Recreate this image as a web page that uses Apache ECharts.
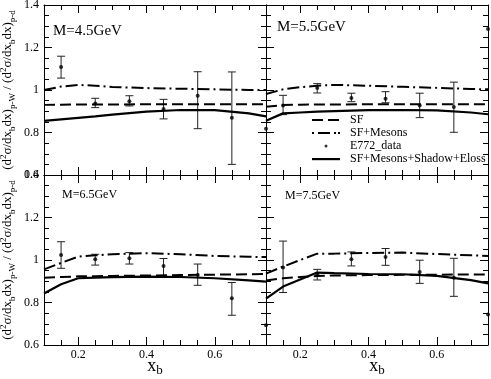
<!DOCTYPE html>
<html>
<head>
<meta charset="utf-8">
<script src="https://cdn.jsdelivr.net/npm/echarts@6/dist/echarts.min.js"></script>
<style>
  html, body { margin: 0; padding: 0; background: #fff; }
  #chart { width: 491px; height: 379px; }
</style>
</head>
<body>
<div id="chart"></div>
<script>
// panels: 0 = M4.5 (top left), 1 = M5.5 (top right), 2 = M6.5 (bottom left), 3 = M7.5 (bottom right)
var massLabels = ['M=4.5GeV', 'M=5.5GeV', 'M=6.5GeV', 'M=7.5GeV']

// x nodes of the model curves
var xNodes = [0.1, 0.15, 0.2, 0.25, 0.3, 0.4, 0.5, 0.6, 0.7, 0.75]

// SF (dashed)
var sfCurves = [
  [0.93, 0.931, 0.932, 0.932, 0.932, 0.933, 0.933, 0.933, 0.933, 0.933],
  [0.921, 0.929, 0.931, 0.932, 0.932, 0.933, 0.933, 0.933, 0.933, 0.933],
  [0.917, 0.92, 0.923, 0.924, 0.925, 0.927, 0.929, 0.931, 0.933, 0.934],
  [0.904, 0.914, 0.92, 0.925, 0.927, 0.929, 0.93, 0.931, 0.932, 0.932],
]
// SF+Mesons (dash-dot)
var mesonCurves = [
  [1.0, 1.016, 1.024, 1.02, 1.014, 1.009, 1.006, 1.003, 1.0, 1.0],
  [0.981, 1.003, 1.013, 1.02, 1.024, 1.02, 1.015, 1.01, 1.005, 1.003],
  [0.956, 0.986, 1.016, 1.022, 1.027, 1.032, 1.027, 1.019, 1.015, 1.014],
  [0.936, 0.969, 1.0, 1.03, 1.03, 1.033, 1.035, 1.028, 1.022, 1.019],
]
// SF+Mesons+Shadow+Eloss (solid)
var fullCurves = [
  [0.855, 0.862, 0.869, 0.876, 0.884, 0.898, 0.906, 0.905, 0.89, 0.876],
  [0.855, 0.89, 0.894, 0.898, 0.901, 0.905, 0.906, 0.904, 0.894, 0.886],
  [0.842, 0.886, 0.914, 0.917, 0.919, 0.922, 0.92, 0.914, 0.904, 0.898],
  [0.818, 0.875, 0.908, 0.941, 0.938, 0.934, 0.933, 0.925, 0.905, 0.89],
]

// E772 data
var dataX = [0.15, 0.25, 0.35, 0.45, 0.55, 0.65]
var dataY = [
  [1.108, 0.937, 0.947, 0.911, 0.973, 0.87],
  [0.927, 1.01, 0.962, 0.959, 0.927, 0.92],
  [1.024, 1.003, 1.008, 0.972, 0.93, 0.82],
  [0.965, 0.933, 1.003, 1.014, 0.944, 0.917],
]
var dataLo = [
  [1.056, 0.917, 0.925, 0.864, 0.818, 0.65],
  [0.884, 0.986, 0.945, 0.94, 0.87, 0.801],
  [0.961, 0.976, 0.981, 0.92, 0.881, 0.74],
  [0.847, 0.906, 0.972, 0.975, 0.89, 0.829],
]
var dataHi = [
  [1.159, 0.961, 0.973, 0.956, 1.086, 1.085],
  [0.975, 1.03, 0.985, 0.992, 0.985, 1.037],
  [1.086, 1.027, 1.035, 1.007, 0.981, 0.894],
  [1.089, 0.956, 1.038, 1.054, 0.999, 1.008],
]
// stray dots sitting on the panel edges
var edgeDots = [[], [[0.1, 0.818], [0.75, 1.287]], [], [[0.1, 0.693], [0.75, 0.744]]]

var xMajorTicks = [0.2, 0.4, 0.6]

var FONT = 'Liberation Serif'
var black = { color: '#000', width: 1 }

var grids = [
  { left: 44, top: 5, width: 222, height: 170 },
  { left: 266, top: 5, width: 222, height: 170 },
  { left: 44, top: 175, width: 222, height: 170 },
  { left: 266, top: 175, width: 222, height: 170 },
]

var yTitle =
  '{m|(d}{sup|2}{m|σ/dx}{sub|b}{m|dx)}{sub|p-W}{m| / (d}{sup|2}{m|σ/dx}{sub|b}{m|dx)}{sub|p-d}'

var xAxes = []
var yAxes = []
grids.forEach(function (gr, g) {
  var bottomRow = g >= 2
  var leftCol = g % 2 === 0
  ;['bottom', 'top'].forEach(function (pos) {
    // major ticks + labels
    xAxes.push({
      type: 'value',
      gridIndex: g,
      position: pos,
      min: 0.1,
      max: 0.75,
      axisLine: { show: true, onZero: false, lineStyle: black },
      axisTick: { show: true, inside: true, length: 8, customValues: xMajorTicks, lineStyle: black },
      axisLabel: {
        show: pos === 'bottom' && bottomRow,
        customValues: xMajorTicks,
        margin: 4,
        color: '#000',
        fontFamily: FONT,
        fontSize: 12,
        formatter: function (v) { return String(Math.round(v * 10) / 10) },
      },
      splitLine: { show: false },
      name: pos === 'bottom' && bottomRow ? '{x|x}{b|b}' : '',
      nameLocation: 'middle',
      nameGap: 10,
      nameMoveOverlap: false,
      nameTextStyle: {
        rich: {
          x: { fontFamily: FONT, fontSize: 18, color: '#000', lineHeight: 22 },
          b: { fontFamily: FONT, fontSize: 13, color: '#000', verticalAlign: 'bottom', padding: [8, 0, 0, 0] },
        },
      },
    })
    // minor ticks
    xAxes.push({
      type: 'value',
      gridIndex: g,
      position: pos,
      min: 0.1,
      max: 0.75,
      interval: 0.05,
      axisLine: { show: false },
      axisTick: { show: true, inside: true, length: 5, lineStyle: black },
      axisLabel: { show: false },
      splitLine: { show: false },
    })
  })
  ;['left', 'right'].forEach(function (pos) {
    yAxes.push({
      type: 'value',
      gridIndex: g,
      position: pos,
      min: 0.6,
      max: 1.4,
      interval: 0.2,
      axisLine: { show: true, onZero: false, lineStyle: black },
      axisTick: { show: true, inside: true, length: 8, lineStyle: black },
      minorTick: { show: true, splitNumber: 4, length: 5, lineStyle: black },
      axisLabel: {
        show: pos === 'left' && leftCol,
        margin: 5,
        color: '#000',
        fontFamily: FONT,
        fontSize: 12,
        formatter: function (v) { return String(Math.round(v * 10) / 10) },
      },
      splitLine: { show: false },
      minorSplitLine: { show: false },
      name: pos === 'left' && leftCol ? yTitle : '',
      nameLocation: 'middle',
      nameRotate: 90,
      nameGap: 27,
      nameMoveOverlap: false,
      nameTextStyle: {
        rich: {
          m: { fontFamily: FONT, fontSize: 13, color: '#000', lineHeight: 18 },
          sup: { fontFamily: FONT, fontSize: 9, color: '#000', verticalAlign: 'top', padding: [0, 0, 8, 0] },
          sub: { fontFamily: FONT, fontSize: 9, color: '#000', verticalAlign: 'bottom', padding: [6, 0, 0, 0] },
        },
      },
    })
  })
})

function pairs(xs, ys) {
  return xs.map(function (x, i) { return [x, ys[i]] })
}

var series = []
grids.forEach(function (gr, g) {
  var xi = g * 4
  var yi = g * 2
  series.push({
    name: 'SF',
    type: 'line',
    xAxisIndex: xi,
    yAxisIndex: yi,
    symbol: 'none',
    itemStyle: { color: '#000' },
    lineStyle: { color: '#000', width: 2, type: [11, 5] },
    data: pairs(xNodes, sfCurves[g]),
  })
  series.push({
    name: 'SF+Mesons',
    type: 'line',
    xAxisIndex: xi,
    yAxisIndex: yi,
    symbol: 'none',
    itemStyle: { color: '#000' },
    lineStyle: { color: '#000', width: 2, type: [12, 4, 2, 4] },
    data: pairs(xNodes, mesonCurves[g]),
  })
  series.push({
    name: 'E772_err',
    type: 'custom',
    xAxisIndex: xi,
    yAxisIndex: yi,
    renderItem: function (params, api) {
      var lo = api.coord([api.value(0), api.value(1)])
      var hi = api.coord([api.value(0), api.value(2)])
      var cap = 4
      var st = { stroke: '#222', lineWidth: 1, fill: null }
      return {
        type: 'group',
        children: [
          { type: 'line', shape: { x1: lo[0], y1: lo[1], x2: hi[0], y2: hi[1] }, style: st },
          { type: 'line', shape: { x1: lo[0] - cap, y1: lo[1], x2: lo[0] + cap, y2: lo[1] }, style: st },
          { type: 'line', shape: { x1: hi[0] - cap, y1: hi[1], x2: hi[0] + cap, y2: hi[1] }, style: st },
        ],
      }
    },
    data: dataX.map(function (x, i) { return [x, dataLo[g][i], dataHi[g][i]] }),
    z: 3,
  })
  series.push({
    name: 'E772_data',
    type: 'scatter',
    xAxisIndex: xi,
    yAxisIndex: yi,
    symbol: 'circle',
    symbolSize: 4,
    itemStyle: { color: '#000' },
    data: pairs(dataX, dataY[g]).concat(edgeDots[g]),
    z: 4,
  })
  series.push({
    name: 'SF+Mesons+Shadow+Eloss',
    type: 'line',
    xAxisIndex: xi,
    yAxisIndex: yi,
    symbol: 'none',
    itemStyle: { color: '#000' },
    lineStyle: { color: '#000', width: 2.2, type: 'solid' },
    data: pairs(xNodes, fullCurves[g]),
  })
})

var titles = [
  { text: massLabels[0], left: 53, top: 24, fontSize: 15 },
  { text: massLabels[1], left: 277, top: 20, fontSize: 15 },
  { text: massLabels[2], left: 62, top: 189, fontSize: 12 },
  { text: massLabels[3], left: 285, top: 190, fontSize: 12 },
].map(function (t) {
  return {
    text: t.text,
    left: t.left,
    top: t.top,
    padding: 0,
    textStyle: { fontFamily: FONT, fontSize: t.fontSize, fontWeight: 'normal', color: '#000' },
  }
})

// legend glyphs (28 x 12 box, bbox fixed by the two moveTo points)
var box = 'path://M0 0M28 12'
var legendIcons = {
  SF: box + 'M0 5h11v2h-11zM16 5h11v2h-11z',
  'SF+Mesons': box + 'M0 5h2v2h-2zM6 5h12v2h-12zM22 5h2v2h-2zM26 5h2v2h-2z',
  E772_data: box + 'M12.5 6a1.5 1.5 0 1 0 3 0a1.5 1.5 0 1 0 -3 0z',
  'SF+Mesons+Shadow+Eloss': box + 'M0 5h28v2.2h-28z',
}

var chart = echarts.init(document.getElementById('chart'), null, { renderer: 'canvas' })
chart.setOption({
  animation: false,
  backgroundColor: '#fff',
  title: titles,
  grid: grids.map(function (gr) {
    return Object.assign({ containLabel: false, outerBoundsMode: 'none' }, gr)
  }),
  xAxis: xAxes,
  yAxis: yAxes,
  legend: {
    orient: 'vertical',
    left: 312,
    top: 114,
    padding: 0,
    itemWidth: 28,
    itemHeight: 12,
    itemGap: 1,
    selectedMode: false,
    textStyle: { fontFamily: FONT, fontSize: 12, color: '#000', lineHeight: 12, padding: [0, 0, 0, 5] },
    data: ['SF', 'SF+Mesons', 'E772_data', 'SF+Mesons+Shadow+Eloss'].map(function (n) {
      return { name: n, icon: legendIcons[n], itemStyle: { color: '#000', borderWidth: 0 } }
    }),
  },
  series: series,
})
</script>
</body>
</html>
